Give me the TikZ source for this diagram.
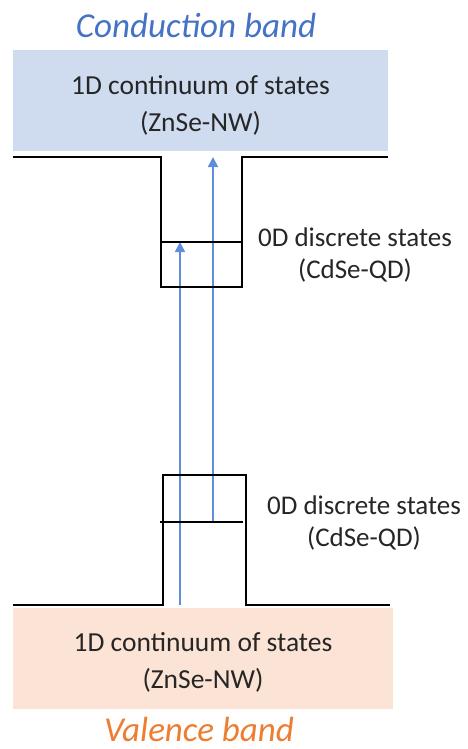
\documentclass[tikz,border=0pt]{standalone}
\usepackage{fontspec}
\setmainfont{Carlito}
\usetikzlibrary{arrows.meta}
\definecolor{cbfill}{RGB}{207,220,240}
\definecolor{vbfill}{RGB}{251,228,213}
\definecolor{cbblue}{RGB}{68,114,196}
\definecolor{arrblue}{RGB}{95,142,218}
\definecolor{vborange}{RGB}{237,125,49}
\definecolor{txtgray}{RGB}{38,38,38}
\tikzset{
  bandbox/.style={draw=none, inner sep=0pt, align=center, text=txtgray,
    font=\fontsize{27.5}{37}\selectfont},
  bandtitle/.style={inner sep=0pt, font=\fontsize{35}{40}\selectfont\itshape},
  qdlabel/.style={inner sep=0pt, align=center, text=txtgray,
    font=\fontsize{27}{32}\selectfont},
  wall/.style={line width=2.8pt, black, line join=miter},
  trans/.style={line width=1.6pt, arrblue, -{Triangle[length=10pt,width=10pt]}}
}
\begin{document}
\begin{tikzpicture}[x=1pt,y=-1pt]
\useasboundingbox (0,0) rectangle (467,749);
% bands
\node[bandbox, fill=cbfill, minimum width=375, minimum height=101] (cb) at (200.5,100.5) {};
\node[bandbox] (cbtxt) at (200.5,105) {1D continuum of states\\(ZnSe-NW)};
\node[bandbox, fill=vbfill, minimum width=380, minimum height=101] (vb) at (203,658.5) {};
\node[bandbox] (vbtxt) at (203,662) {1D continuum of states\\(ZnSe-NW)};
\node[bandtitle, text=cbblue] (cbt) at (196,25) {Conduction band};
\node[bandtitle, text=vborange] (vbt) at (199,729) {Valence band};
% transitions
\coordinate (a1s) at (180,605);
\coordinate (a1e) at (180,242);
\coordinate (a2s) at (213,522);
\coordinate (a2e) at (213,157);
\draw[trans] (a1s) -- (a1e);
\draw[trans] (a2s) -- (a2e);
% conduction band well
\draw[wall] (13,157) -- (161,157) -- (161,287) -- (242,287) -- (242,157) -- (388,157);
\draw[wall] (161,242) -- (242,242);
% valence band barrier
\draw[wall] (13,605) -- (163,605) -- (163,475) -- (246,475) -- (246,605) -- (390,605);
\draw[wall] (160,522) -- (243,522);
% labels
\node[qdlabel] (qd1) at (355,255) {0D discrete states\\(CdSe-QD)};
\node[qdlabel] (qd2) at (364,523) {0D discrete states\\(CdSe-QD)};
\end{tikzpicture}
\end{document}
